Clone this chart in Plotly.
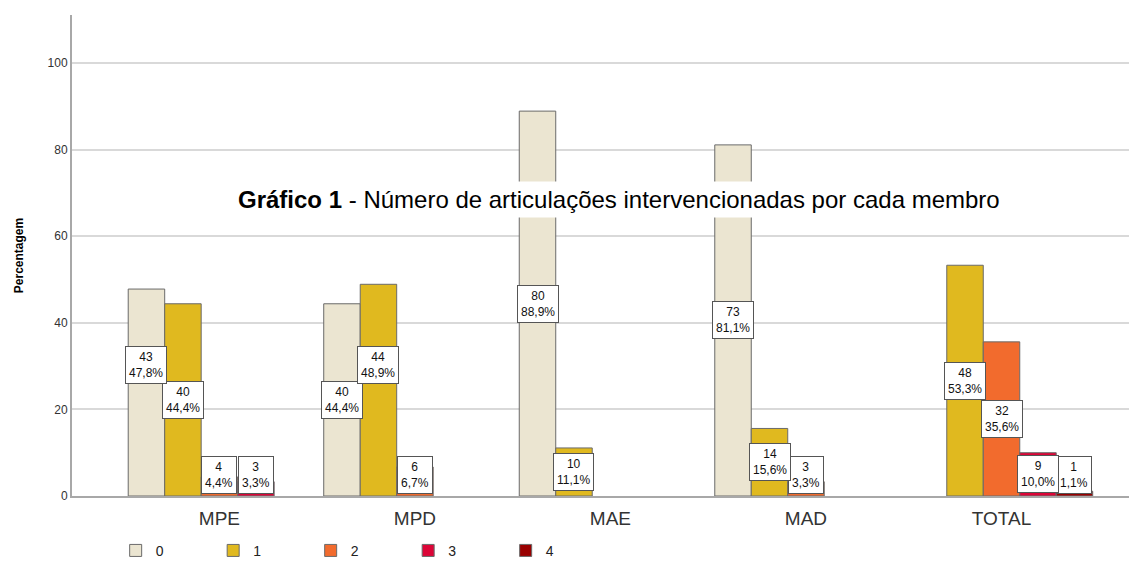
import plotly.graph_objects as go

categories = ["MPE", "MPD", "MAE", "MAD", "TOTAL"]
series_names = ["0", "1", "2", "3", "4"]
percent_0 = [47.8, 44.4, 88.9, 81.1, 0]
percent_1 = [44.4, 48.9, 11.1, 15.6, 53.3]
percent_2 = [4.4, 6.7, 0, 3.3, 35.6]
percent_3 = [3.3, 0, 0, 0, 10.0]
percent_4 = [0, 0, 0, 0, 1.1]
count_0 = [43, 40, 80, 73, 0]
count_1 = [40, 44, 10, 14, 48]
count_2 = [4, 6, 0, 3, 32]
count_3 = [3, 0, 0, 0, 9]
count_4 = [0, 0, 0, 0, 1]
y_ticks = [0, 20, 40, 60, 80, 100]
title_bold = "Gráfico 1"
title_rest = " - Número de articulações intervencionadas por cada membro"
y_title = "Percentagem"

percents = [percent_0, percent_1, percent_2, percent_3, percent_4]
counts = [count_0, count_1, count_2, count_3, count_4]
colors = ["#EBE5D1", "#E0B91F", "#F26B2D", "#DC0537", "#990000"]

FONT = "Arial, 'Liberation Sans', sans-serif"
BARGAP = 0.067
n = len(series_names)
bw = (1 - BARGAP) / n

fig = go.Figure()
for i, name in enumerate(series_names):
    fig.add_trace(go.Bar(
        x=categories,
        y=[v if v > 0 else None for v in percents[i]],
        name=name,
        marker=dict(color=colors[i], line=dict(color="#6a6a6a", width=1)),
        hoverinfo="skip",
    ))

# label placement (in data units)
px_per_unit = 481 / 111.1
box_h = 35 / px_per_unit
ymin = 21 / px_per_unit

def fmt(v):
    return f"{v:.1f}".replace(".", ",") + "%"

annotations = []
for j, cat in enumerate(categories):
    labels = []
    for i in range(n):
        v = percents[i][j]
        if v <= 0:
            continue
        txt = fmt(v)
        w = 7 * len(txt) + 7
        labels.append(dict(i=i, v=v, txt=txt, w=w, y=max(v / 2, ymin)))
    labels.sort(key=lambda d: d["y"])
    placed = []
    for lab in labels:
        for p in placed:
            if abs(p["i"] - lab["i"]) == 1 and (p["w"] + lab["w"]) / 2 > 40:
                if abs(lab["y"] - p["y"]) < box_h:
                    lab["y"] = p["y"] + box_h
        placed.append(lab)
    for lab in placed:
        annotations.append(dict(
            x=j + (lab["i"] - (n - 1) / 2) * bw,
            y=lab["y"], xref="x", yref="y",
            text=f"{counts[lab['i']][j]}<br>{lab['txt']}",
            showarrow=False,
            font=dict(family=FONT, size=12, color="#111"),
            bgcolor="white", bordercolor="#555", borderwidth=1, borderpad=3,
            align="center",
        ))

annotations.append(dict(
    x=0.5136, y=0.6154, xref="paper", yref="paper",
    text=f"<b>{title_bold}</b>{title_rest}",
    showarrow=False,
    font=dict(family=FONT, size=24, color="#000"),
    bgcolor="white", borderpad=4,
))

# page body has an 8px margin: figure is sized/offset to fill the window
fig.update_layout(
    width=1129, height=553,
    margin=dict(l=64, r=0, t=7, b=65, autoexpand=False),
    plot_bgcolor="white", paper_bgcolor="white",
    barmode="group", bargap=BARGAP, bargroupgap=0,
    font=dict(family=FONT, color="#222"),
    annotations=annotations,
    showlegend=True,
    legend=dict(
        orientation="h", x=0.041, y=-0.114, xanchor="left", yanchor="middle",
        entrywidth=52.5, entrywidthmode="pixels",
        font=dict(family=FONT, size=14, color="#222"),
        traceorder="normal",
    ),
)
fig.update_xaxes(
    type="category", range=[-0.754, 4.693], automargin=False,
    showline=True, linecolor="#a8a8a8", linewidth=2,
    showgrid=False, ticks="", tickfont=dict(family=FONT, size=19, color="#333"),
    ticklabelstandoff=4,
)
fig.update_yaxes(
    range=[0, 111.1], tickvals=y_ticks, automargin=False,
    showline=True, linecolor="#a8a8a8", linewidth=2,
    showgrid=True, gridcolor="#d9d9d9", gridwidth=1.5,
    zeroline=False, ticks="", tickfont=dict(family=FONT, size=12, color="#333"),
    title=dict(text=f"<b>{y_title}</b>", font=dict(family=FONT, size=12, color="#000"), standoff=21),
)

fig.write_html("out.html")
